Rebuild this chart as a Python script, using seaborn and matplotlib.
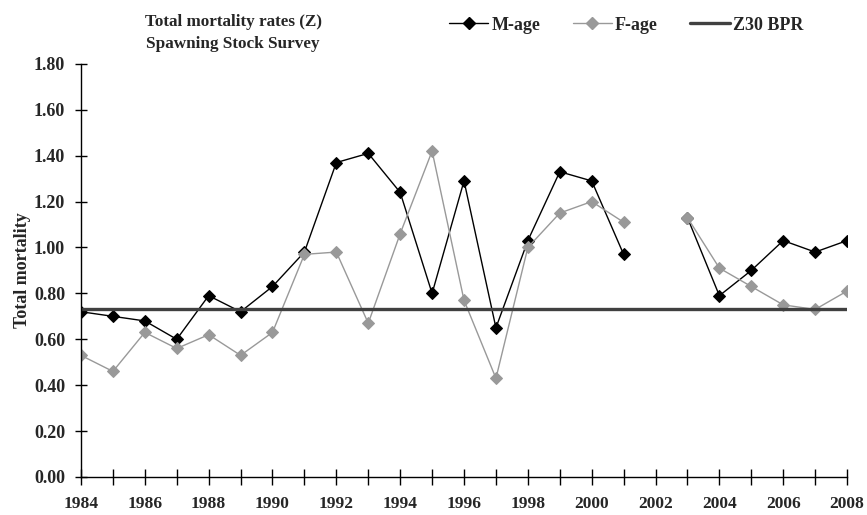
import numpy as np
import pandas as pd
import matplotlib
matplotlib.use("Agg")
import matplotlib.pyplot as plt
from matplotlib.lines import Line2D
import seaborn as sns

years = list(range(1984, 2009))
m_age = [0.72, 0.70, 0.68, 0.60, 0.79, 0.72, 0.83, 0.98, 1.37, 1.41, 1.24, 0.80, 1.29,
         0.65, 1.03, 1.33, 1.29, 0.97, np.nan, 1.13, 0.79, 0.90, 1.03, 0.98, 1.03]
f_age = [0.53, 0.46, 0.63, 0.56, 0.62, 0.53, 0.63, 0.97, 0.98, 0.67, 1.06, 1.42, 0.77,
         0.43, 1.00, 1.15, 1.20, 1.11, np.nan, 1.13, 0.91, 0.83, 0.75, 0.73, 0.81]
z30_bpr = 0.73
yticks = [0.0, 0.2, 0.4, 0.6, 0.8, 1.0, 1.2, 1.4, 1.6, 1.8]
xticklabels_years = list(range(1984, 2009, 2))

sns.set_theme(style="white")
plt.rcParams['font.family'] = ['Liberation Serif', 'DejaVu Serif']
plt.rcParams['font.weight'] = 'bold'

df = pd.DataFrame({"year": years, "M": m_age, "F": f_age})
df["seg"] = np.cumsum(df["M"].isna().astype(int))
df = df.dropna()

fig = plt.figure(figsize=(8.67, 5.15), dpi=100)
ax = fig.add_axes([0.0934, 0.0738, 0.8836, 0.8022])

sns.lineplot(data=df, x="year", y="M", units="seg", estimator=None, color="black",
             marker="D", markersize=6, markeredgecolor="black", linewidth=1.0, ax=ax)
sns.lineplot(data=df, x="year", y="F", units="seg", estimator=None, color="#999999",
             marker="D", markersize=6, markeredgecolor="#999999", linewidth=1.0, ax=ax)
zdf = pd.DataFrame({"year": [years[0], years[-1]], "Z": [z30_bpr, z30_bpr]})
sns.lineplot(data=zdf, x="year", y="Z", color="#404040", linewidth=2.4, ax=ax)

fs = 13
ax.set_xlim(years[0], years[-1])
ax.set_ylim(0, 1.8)
ax.set_yticks(yticks)
ax.set_yticklabels([f"{v:.2f}" for v in yticks], fontsize=fs, fontweight='bold')
ax.set_xticks(years)
ax.set_xticklabels([str(y) if y in xticklabels_years else "" for y in years],
                   fontsize=12.5, fontweight='bold')
ax.tick_params(axis='x', bottom=True, direction='inout', length=11, width=1,
               color='black', pad=8.5)
ax.tick_params(axis='y', left=True, direction='inout', length=9, width=1,
               color='black', pad=7)
for s in ['top', 'right']:
    ax.spines[s].set_visible(False)
for s in ['left', 'bottom']:
    ax.spines[s].set_color('black')
    ax.spines[s].set_linewidth(1)
ax.set_xlabel("")
ax.set_ylabel("Total mortality", fontsize=fs, fontweight='bold', labelpad=2)

fig.text(0.269, 0.935, "Total mortality rates (Z)\nSpawning Stock Survey", ha='center',
         va='center', fontsize=12.3, fontweight='bold', linespacing=1.5)

handles = [
    Line2D([], [], color='black', marker='D', markersize=6, linewidth=1.0),
    Line2D([], [], color='#999999', marker='D', markersize=6, linewidth=1.0),
    Line2D([], [], color='#404040', linewidth=2.4),
]
fig.legend(handles, ["M-age", "F-age", "Z30 BPR"], loc='center', bbox_to_anchor=(0.722, 0.951),
           ncol=3, frameon=False, handlelength=2.2, columnspacing=1.8,
           handletextpad=0.15, prop={'weight': 'bold', 'size': fs})

fig.savefig("out.png", dpi=100)
